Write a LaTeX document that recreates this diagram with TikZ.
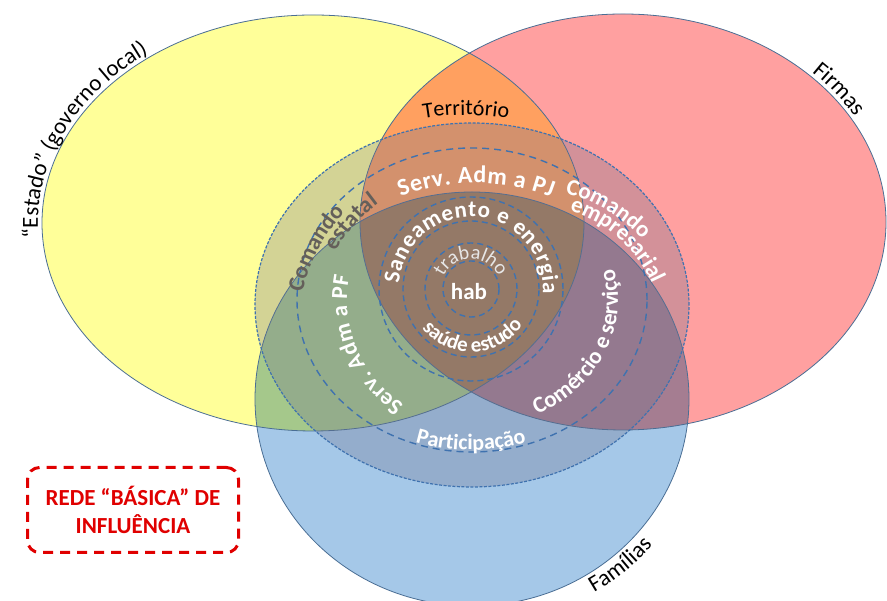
\documentclass[tikz,border=0pt]{standalone}
\usepackage{fontspec}
\setmainfont{Carlito}
\usetikzlibrary{decorations.text}
\definecolor{estadoyel}{HTML}{FFFF99}
\definecolor{firmared}{HTML}{FFA0A0}
\definecolor{familblue}{HTML}{A5C8E8}
\definecolor{edgeblue}{HTML}{4A6E94}
\definecolor{ringblue}{HTML}{3F72AF}
\definecolor{veilgray}{HTML}{6E708C}
\definecolor{cmdgray}{HTML}{645F5A}
\definecolor{softwhite}{HTML}{E6E6E6}
\definecolor{redebox}{HTML}{E00000}
\newcommand\wfont{\color{white}\bfseries\fontsize{23}{23}\selectfont}
\newcommand\wbig{\color{white}\bfseries\fontsize{24}{24}\selectfont}
\newcommand\wsmall{\color{white}\bfseries\fontsize{22}{22}\selectfont}
\newcommand\cmdfont{\color{cmdgray}\bfseries\fontsize{23}{23}\selectfont}
\newcommand\outfont{\fontsize{23}{23}\selectfont}

\begin{document}
\begin{tikzpicture}[x=1pt,y=1pt,
  blob/.style={draw=edgeblue,line width=0.8pt},
  ring/.style={draw=ringblue,line width=1.4pt,dash pattern=on 6pt off 4pt},
  ontext/.style={decorate,decoration={text along path,text align=center,text={#1}}},
  fittext/.style={decorate,decoration={text along path,text align=fit to path,text={#1}}},
  lefttext/.style={decorate,decoration={text along path,text align=left,text={#1}}}]
  \fill[white] (0,0) rectangle (887,601);
  \useasboundingbox (0,0) rectangle (887,601);
  \coordinate (estado) at (313,378);
  \coordinate (firmas) at (623,379);
  \coordinate (famil) at (472,202);
  \coordinate (veil) at (472,296);
  \coordinate (mid) at (472,301);
  \coordinate (core) at (471,312);
  \coordinate (terr) at (466,236);
  \coordinate (pj) at (476,208);
  \coordinate (stat) at (472,270);
  \coordinate (emp) at (530,262);
  \coordinate (part) at (471,351);
  % the three sets
  \begin{scope}[blend mode=multiply]
    \fill[estadoyel] (estado) ellipse[x radius=271,y radius=208];
    \fill[firmared] (firmas) ellipse[x radius=263,y radius=208];
    \fill[familblue] (famil) ellipse[x radius=217,y radius=207];
  \end{scope}
  \draw[blob] (estado) ellipse[x radius=271,y radius=208];
  \draw[blob] (firmas) ellipse[x radius=263,y radius=208];
  \draw[blob] (famil) ellipse[x radius=217,y radius=207];
  % rings of influence
  \fill[veilgray,fill opacity=0.3] (veil) ellipse[x radius=217,y radius=182];
  \draw[ringblue,line width=1.2pt,dash pattern=on 3pt off 1.5pt] (veil) ellipse[x radius=217,y radius=182];
  \draw[ring,dash pattern=on 7pt off 5pt] (mid) ellipse[x radius=175,y radius=152];
  \foreach \r in {92,68,46,28}
    \draw[ring] (core) circle[radius=\r];
  % set names
  \path[lefttext={|\outfont|“Estado” (governo local)}]
    ([shift={(184:275 and 212)}]estado) arc[start angle=184,end angle=110,x radius=275,y radius=212];
  \path[lefttext={|\outfont|Firmas}]
    ([shift={(45:267 and 212)}]firmas) arc[start angle=45,end angle=15,x radius=267,y radius=212];
  \path[lefttext={|\outfont|Famílias}]
    ([shift={(-59:237 and 226)}]famil) arc[start angle=-59,end angle=-20,x radius=237,y radius=226];
  \path[ontext={|\fontsize{22}{22}\selectfont|Território}]
    ([shift={(100:250)}]terr) arc[start angle=100,end angle=80,radius=250];
  % ring labels
  \path[fittext={|\wbig|Serv. Adm a PJ}]
    ([shift={(111:210)}]pj) arc[start angle=111,end angle=69,radius=210];
  \path[fittext={|\wfont|Saneamento e energia}]
    ([shift={(176:72)}]core) arc[start angle=176,end angle=-4,radius=72];
  \path[ontext={|\color{softwhite}\fontsize{20}{20}\selectfont|trabalho}]
    ([shift={(160:30)}]core) arc[start angle=160,end angle=20,radius=30];
  \node[text=white,font=\bfseries\fontsize{23}{23}\selectfont] (hab) at (469,309) {hab};
  \path[ontext={|\color{white}\bfseries\fontsize{21}{21}\selectfont|saúde estudo}]
    ([shift={(210:63)}]core) arc[start angle=210,end angle=334,radius=63];
  \path[ontext={|\cmdfont|Comando}]
    ([shift={(175:174)}]stat) arc[start angle=175,end angle=129,radius=174];
  \path[ontext={|\cmdfont|estatal}]
    ([shift={(160:158)}]stat) arc[start angle=160,end angle=116,radius=158];
  \path[ontext={|\wfont|Comando}]
    ([shift={(85:150)}]emp) arc[start angle=85,end angle=33,radius=150];
  \path[ontext={|\wfont|empresarial}]
    ([shift={(80:134)}]emp) arc[start angle=80,end angle=17,radius=134];
  \path[fittext={|\wfont|Serv. Adm a PF}]
    ([shift={(237:125)}]mid) arc[start angle=237,end angle=169,radius=125];
  \path[ontext={|\wfont|Comércio e serviço}]
    ([shift={(-68:146 and 128)}]mid) arc[start angle=-68,end angle=19,x radius=146,y radius=128];
  \path[ontext={|\wsmall|Participação}]
    ([shift={(254:200)}]part) arc[start angle=254,end angle=286,radius=200];
  % legend box
  \node[draw=redebox,line width=3pt,dash pattern=on 10pt off 7pt,rounded corners=12pt,
    minimum width=211pt,minimum height=85pt,text=redebox,align=center,
    font=\bfseries\fontsize{23}{28}\selectfont] (rede) at (133,91) {REDE “BÁSICA” DE\\INFLUÊNCIA};
\end{tikzpicture}
\end{document}
